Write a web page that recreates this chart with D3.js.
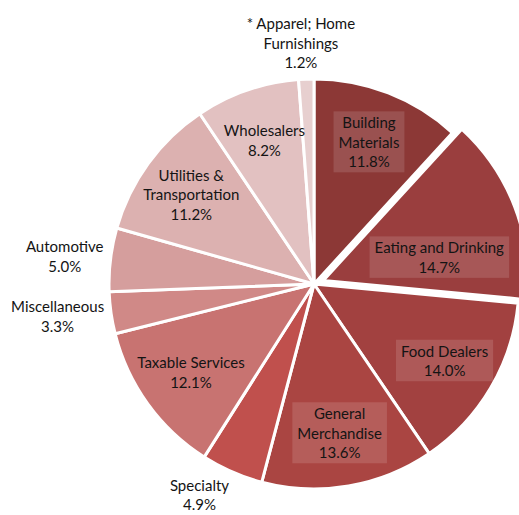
<!DOCTYPE html>
<html>
<head>
<meta charset="utf-8">
<script src="https://cdn.jsdelivr.net/npm/d3@7"></script>
<style>
  body { margin: 0; background: #fff; }
  text { font-family: Lato, "Open Sans", sans-serif; font-size: 15px; fill: #141414; }
</style>
</head>
<body>
<div id="chart"></div>
<script>
// slice data, clockwise from 12 o'clock
var categories = ["Building Materials", "Eating and Drinking", "Food Dealers", "General Merchandise",
                  "Specialty", "Taxable Services", "Miscellaneous", "Automotive",
                  "Utilities & Transportation", "Wholesalers", "* Apparel; Home Furnishings"];
var values = [11.8, 14.7, 14.0, 13.6, 4.9, 12.1, 3.3, 5.0, 11.2, 8.2, 1.2];
// how each label is wrapped into lines
var labelLines = [["Building", "Materials"], ["Eating and Drinking"], ["Food Dealers"], ["General", "Merchandise"],
                  ["Specialty"], ["Taxable Services"], ["Miscellaneous"], ["Automotive"],
                  ["Utilities &", "Transportation"], ["Wholesalers"], ["* Apparel; Home", "Furnishings"]];
var colors = ["#8c3836", "#9a3e3e", "#a24140", "#aa4542", "#c0504d", "#c87371",
              "#d08987", "#d59e9d", "#dcb1b0", "#e2c1c1", "#e7cfcf"];
var outside = [false, false, false, false, true, false, true, true, false, false, true];
var boxed = [true, true, true, true, false, false, false, false, false, false, false];
var exploded = [false, true, false, false, false, false, false, false, false, false, false];

var width = 519, height = 515,
    cx = 314, cy = 284,
    radius = 205,
    explodeBy = 10,
    lineH = 19.5;

var svg = d3.select("#chart").append("svg")
    .attr("width", width)
    .attr("height", height);

var g = svg.append("g").attr("transform", "translate(" + cx + "," + cy + ")");

var pie = d3.pie().sort(null).value(function(d) { return d; });
var arcs = pie(values);

var arc = d3.arc().innerRadius(0).outerRadius(radius);
var inLabel = d3.arc().innerRadius(radius * 0.74).outerRadius(radius * 0.74);
var outAnchor = d3.arc().innerRadius(radius + 7).outerRadius(radius + 7);

function offset(d, i) {
  if (!exploded[i]) return [0, 0];
  var a = (d.startAngle + d.endAngle) / 2;
  return [Math.sin(a) * explodeBy, -Math.cos(a) * explodeBy];
}

function clamp1(v) { return Math.max(-1, Math.min(1, v)); }

g.selectAll("path.slice")
  .data(arcs)
  .enter().append("path")
    .attr("class", "slice")
    .attr("d", arc)
    .attr("transform", function(d, i) { var o = offset(d, i); return "translate(" + o[0] + "," + o[1] + ")"; })
    .attr("fill", function(d, i) { return colors[i]; })
    .attr("stroke", "#fff")
    .attr("stroke-width", 3)
    .attr("stroke-linejoin", "round");

// labels
var labels = g.selectAll("g.label")
  .data(arcs)
  .enter().append("g")
    .attr("class", "label");

labels.each(function(d, i) {
  var lines = labelLines[i].concat([d3.format(".1f")(values[i]) + "%"]);
  var sel = d3.select(this);
  var y0 = -(lines.length - 1) * lineH / 2;
  var txt = sel.append("text").attr("text-anchor", "middle");
  lines.forEach(function(l, k) {
    txt.append("tspan")
      .attr("x", 0)
      .attr("y", y0 + k * lineH)
      .attr("dy", "0.35em")
      .text(l);
  });
  var bb = txt.node().getBBox();
  var a = (d.startAngle + d.endAngle) / 2;
  var o = offset(d, i), x, y;
  if (outside[i]) {
    // push the text block out beyond the rim, away from the pie
    var p = outAnchor.centroid(d);
    x = p[0] + clamp1(Math.sin(a) * 2.5) * bb.width / 2;
    y = p[1] - Math.cos(a) * bb.height / 2;
  } else {
    var c = inLabel.centroid(d);
    x = c[0] + o[0];
    y = c[1] + o[1];
  }
  // keep the label inside the picture; if it had to move, slide it
  // toward the middle until its corners sit inside the slice again
  var maxX = width - cx - 10 - bb.width / 2 - 5;
  if (x > maxX) {
    x = maxX;
    var lim = radius * 0.93;
    var far = function() {
      var hx = bb.width / 2 + 5, hy = bb.height / 2 + 2;
      return Math.max(
        Math.hypot(x - o[0] + hx, y - o[1] - hy),
        Math.hypot(x - o[0] + hx, y - o[1] + hy));
    };
    var step = y < o[1] ? 1 : -1;
    while (far() > lim && Math.abs(y - o[1]) > 0.5) y += step;
  }
  sel.attr("transform", "translate(" + x + "," + y + ")");
  if (boxed[i]) {
    sel.insert("rect", "text")
      .attr("x", bb.x - 5)
      .attr("y", bb.y - 2)
      .attr("width", bb.width + 10)
      .attr("height", bb.height + 4)
      .attr("fill", "#fff")
      .attr("fill-opacity", 0.13);
  }
});
</script>
</body>
</html>
